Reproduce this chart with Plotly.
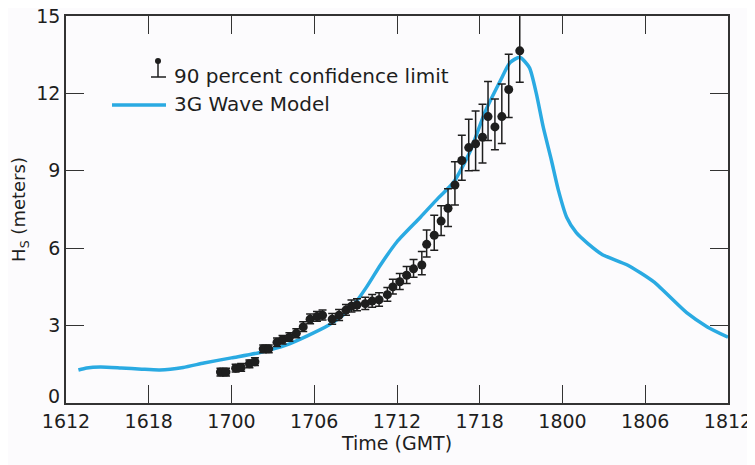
import plotly.graph_objects as go

# x values are hours after 16:12 GMT
tick_hours = [0, 6, 12, 18, 24, 30, 36, 42, 48]
tick_labels = ["1612", "1618", "1700", "1706", "1712", "1718", "1800", "1806", "1812"]
y_ticks = [0, 3, 6, 9, 12, 15]
y_tick_labels = ["", "3", "6", "9", "12", "15"]   # "0" drawn slightly raised, as in the original

# Observed Hs with 90 percent confidence limits
obs_hours = [11.2, 11.6, 12.3, 12.7, 13.3, 13.7, 14.3, 14.7, 15.3, 15.7, 16.2, 16.7,
             17.2, 17.7, 18.2, 18.6, 19.3, 19.8, 20.3, 20.7, 21.1, 21.7, 22.2, 22.7,
             23.3, 23.7, 24.2, 24.7, 25.2, 25.8, 26.15, 26.7, 27.2, 27.7, 28.2, 28.7,
             29.2, 29.7, 30.2, 30.6, 31.1, 31.6, 32.1, 32.9]
obs_hs = [1.2, 1.2, 1.35, 1.38, 1.52, 1.6, 2.1, 2.1, 2.35, 2.45, 2.55, 2.7,
          2.95, 3.25, 3.35, 3.4, 3.25, 3.4, 3.6, 3.75, 3.8, 3.85, 3.95, 4.0,
          4.2, 4.5, 4.7, 4.95, 5.2, 5.35, 6.15, 6.5, 7.05, 7.55, 8.45, 9.4,
          9.9, 10.05, 10.3, 11.1, 10.7, 11.1, 12.15, 13.65]
obs_err_up = [0.15, 0.15, 0.15, 0.15, 0.15, 0.15, 0.15, 0.15, 0.17, 0.17, 0.17, 0.18,
              0.2, 0.2, 0.2, 0.2, 0.22, 0.22, 0.22, 0.24, 0.24, 0.25, 0.26, 0.27,
              0.28, 0.3, 0.32, 0.34, 0.36, 0.52, 0.56, 0.78, 0.6, 0.75, 0.9, 0.98,
              1.1, 1.27, 1.28, 1.36, 1.08, 1.26, 1.37, 1.52]
obs_err_down = [0.15, 0.15, 0.15, 0.15, 0.15, 0.15, 0.15, 0.15, 0.16, 0.16, 0.16, 0.17,
                0.18, 0.18, 0.18, 0.18, 0.2, 0.2, 0.2, 0.22, 0.22, 0.23, 0.24, 0.25,
                0.26, 0.28, 0.3, 0.32, 0.33, 0.38, 0.49, 0.58, 0.56, 0.71, 0.78, 0.77,
                0.9, 1.04, 1.0, 0.93, 0.88, 1.04, 1.08, 1.22]

# 3G wave model hindcast
model_hours = [0.9, 1.5, 2.5, 4, 5.5, 6.8, 8.5, 10, 12, 14, 16, 17.5, 19, 20.2, 21,
               21.8, 22.8, 24, 25.7, 27, 28.1, 29.3, 30.4, 31.5, 32.2, 32.9, 33.6,
               34.1, 34.6, 35.2, 35.7, 36.3, 37, 37.8, 38.9, 40.7, 42.6, 45, 46.5, 48]
model_hs = [1.28, 1.36, 1.40, 1.36, 1.31, 1.28, 1.38, 1.55, 1.75, 1.95, 2.25, 2.6,
            3.0, 3.45, 3.9, 4.5, 5.35, 6.25, 7.2, 7.95, 8.55, 9.75, 11.3, 12.5,
            13.2, 13.4, 13.0, 12.0, 10.7, 9.4, 8.25, 7.2, 6.6, 6.2, 5.75, 5.35,
            4.7, 3.5, 2.95, 2.55]

FONT = "DejaVu Sans, Verdana, sans-serif"
BLUE = "#2aaae2"
INK = "#1e1e1e"

fig = go.Figure()
fig.add_trace(go.Scatter(
    x=model_hours, y=model_hs, mode="lines",
    line=dict(color=BLUE, width=3.5, shape="spline", smoothing=0.6),
    name="3G Wave Model", showlegend=False))
fig.add_trace(go.Scatter(
    x=obs_hours, y=obs_hs, mode="markers", cliponaxis=False,
    marker=dict(color=INK, size=9),
    error_y=dict(type="data", symmetric=False, array=obs_err_up, arrayminus=obs_err_down,
                 color=INK, thickness=1.5, width=4),
    name="90 percent confidence limit", showlegend=False))

# manual legend (paper coordinates; page pixels of plot area 66..728 x 16..403)
def px(x):
    return (x - 66) / 662.0

def py(y):
    return (403 - y) / 387.0

shapes = [
    dict(type="line", xref="paper", yref="paper", x0=px(158), x1=px(158), y0=py(61), y1=py(77),
         line=dict(color=INK, width=1.5)),
    dict(type="line", xref="paper", yref="paper", x0=px(151), x1=px(166), y0=py(77), y1=py(77),
         line=dict(color=INK, width=1.5)),
    dict(type="circle", xref="paper", yref="paper", x0=px(155), x1=px(161), y0=py(58), y1=py(64),
         fillcolor=INK, line=dict(color=INK, width=0)),
    dict(type="line", xref="paper", yref="paper", x0=px(112), x1=px(166), y0=py(105), y1=py(105),
         line=dict(color=BLUE, width=3.5)),
]
annotations = [
    dict(text="90 percent confidence limit", xref="paper", yref="paper", x=px(172), y=py(76),
         xanchor="left", yanchor="middle", showarrow=False, font=dict(size=20, color=INK, family=FONT)),
    dict(text="3G Wave Model", xref="paper", yref="paper", x=px(172), y=py(104),
         xanchor="left", yanchor="middle", showarrow=False, font=dict(size=20, color=INK, family=FONT)),
    dict(text="0", xref="paper", yref="y", x=0, y=y_ticks[0], xanchor="right", yanchor="middle",
         xshift=-4, yshift=7, showarrow=False, font=dict(size=19, color=INK, family=FONT)),
]

axis_common = dict(showline=True, linecolor="#333", linewidth=1.5, mirror="ticks",
                   ticks="inside", ticklen=18, tickwidth=1.3, tickcolor="#333",
                   showgrid=False, zeroline=False, automargin=False,
                   ticklabeloverflow="allow",
                   tickfont=dict(size=19, color=INK, family=FONT))

# the page body adds an 8 px margin, so the figure is 8 px smaller than the window
fig.update_layout(
    width=747, height=457,
    margin=dict(l=58, r=27, t=8, b=62),
    paper_bgcolor="#fcfbfd", plot_bgcolor="#fcfbfd",
    font=dict(family=FONT, color=INK),
    shapes=shapes, annotations=annotations,
    xaxis=dict(range=[0, 48], tickvals=tick_hours, ticktext=tick_labels,
               title=dict(text="Time (GMT)", font=dict(size=19, family=FONT, color=INK), standoff=6),
               **axis_common),
    yaxis=dict(range=[0, 15], tickvals=y_ticks, ticktext=y_tick_labels,
               title=dict(text="H<sub>S</sub> (meters)", font=dict(size=18, family=FONT, color=INK), standoff=6),
               **axis_common),
)

fig.write_html("out.html")
